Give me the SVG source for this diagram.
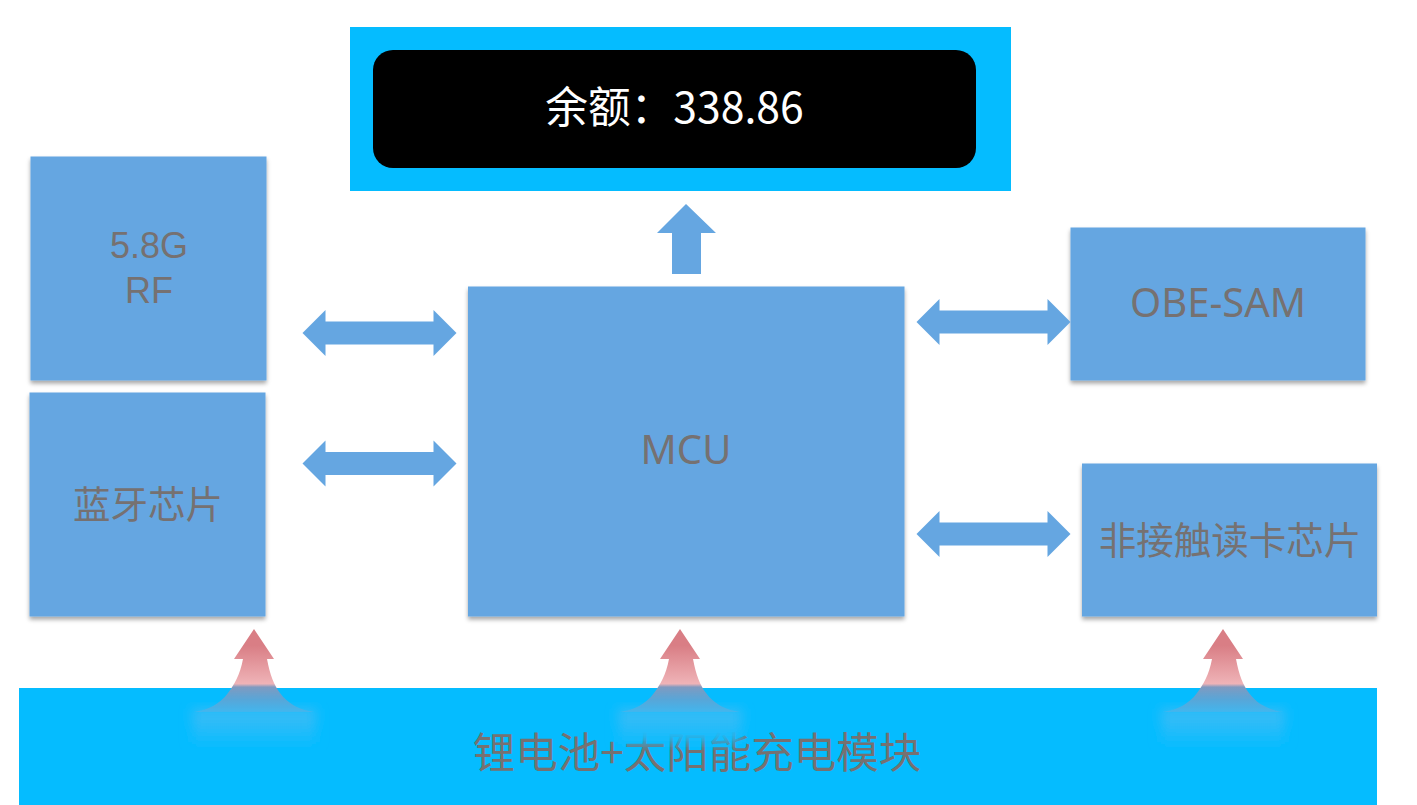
<svg xmlns="http://www.w3.org/2000/svg" width="1417" height="805" viewBox="0 0 1417 805">
<style>
.box{fill:#65a6e1;filter:url(#sh)}
.cy{fill:#05bcff}
.arr{fill:#65a6e1}
text{font-family:"Noto Sans","Noto Sans CJK SC",sans-serif;fill:#767171;text-anchor:middle;font-size:37px}
.cjk{font-family:"Noto Sans CJK SC",sans-serif;font-size:37.500px}
.big{font-size:40px}
.rf{font-family:"Liberation Sans",sans-serif;font-size:36px}
</style>
<defs>
<filter id="sh" x="-5%" y="-5%" width="110%" height="110%"><feDropShadow dx="0" dy="3" stdDeviation="2" flood-color="#000" flood-opacity="0.35"/></filter>
<filter id="soft" x="-10%" y="-10%" width="120%" height="120%"><feGaussianBlur stdDeviation="0.6"/></filter>
<filter id="glow" x="-20%" y="-20%" width="140%" height="140%"><feGaussianBlur stdDeviation="6"/></filter>
<linearGradient id="red" x1="0" y1="0" x2="0" y2="1">
<stop offset="0.2" stop-color="#d97e85"/>
<stop offset="0.66" stop-color="#efb3b7"/>
<stop offset="0.7" stop-color="#7f9ac0"/>
<stop offset="0.85" stop-color="#58a6d8"/>
<stop offset="1" stop-color="#42b6ee"/>
</linearGradient>
<linearGradient id="gl" x1="0" y1="0" x2="0" y2="1">
<stop offset="0" stop-color="#40bbf4"/>
<stop offset="1" stop-color="#10bcfd"/>
</linearGradient>
<g id="up">
<rect x="-62" y="80" width="124" height="34" fill="url(#gl)" filter="url(#glow)"/>
<path d="M0 0L20 30H13C16 46 20 56 26 64C34 75 46 81 60 83H-60C-46 81 -34 75 -26 64C-20 56 -14 46 -11 30H-20Z" fill="url(#red)" filter="url(#soft)"/>
</g>
<path id="dbl" d="M0 23L23 0V11.500H131V0L154 23L131 46V34.500H23V46Z"/>
</defs>
<rect width="1417" height="805" fill="#fff"/>
<g id="display">
<rect class="cy" x="350" y="27" width="661" height="164"/>
<rect x="373" y="50" width="603" height="118" rx="20" fill="#000"/>
<text class="cjk" x="674.500" y="123" style="fill:#fff;font-size:42.700px">余额：338.86</text>
</g>
<g id="rf">
<rect class="box" x="30.500" y="156.500" width="236" height="224"/>
<text class="rf" x="149" y="258">5.8G</text>
<text class="rf" x="149" y="303">RF</text>
</g>
<g id="bluetooth">
<rect class="box" x="29.500" y="392.500" width="236" height="224"/>
<text class="cjk" x="148" y="518">蓝牙芯片</text>
</g>
<g id="mcu">
<rect class="box" x="468" y="286.500" width="436.500" height="330"/>
<text class="big" x="686" y="464">MCU</text>
</g>
<g id="obe-sam">
<rect class="box" x="1070.500" y="227.500" width="295" height="153"/>
<text class="big" x="1218" y="317">OBE-SAM</text>
</g>
<g id="contactless">
<rect class="box" x="1082" y="463.500" width="295" height="153"/>
<text class="cjk" x="1230" y="554">非接触读卡芯片</text>
</g>
<g id="battery">
<rect class="cy" x="19" y="688" width="1358" height="117"/>
<text class="cjk" x="697" y="768" style="font-size:42.500px">锂电池+太阳能充电模块</text>
</g>
<g id="connectors">
<path class="arr" d="M686 204L716 233H701V274H672V233H657Z"/>
<use href="#dbl" class="arr" transform="translate(302.500 310)"/>
<use href="#dbl" class="arr" transform="translate(302.500 440.500)"/>
<use href="#dbl" class="arr" transform="translate(916.500 299)"/>
<use href="#dbl" class="arr" transform="translate(916.500 511)"/>
<use href="#up" transform="translate(254 629)"/>
<use href="#up" transform="translate(680 629)"/>
<use href="#up" transform="translate(1223 629)"/>
</g>
</svg>
